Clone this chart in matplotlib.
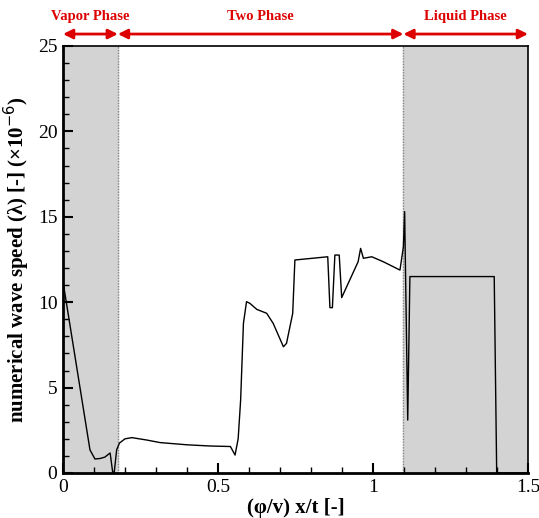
import matplotlib
matplotlib.use('Agg')
import matplotlib.pyplot as plt
from matplotlib.ticker import MultipleLocator

# wave speed curve
x = [0.0, 0.087, 0.103, 0.12, 0.135, 0.152, 0.16, 0.165, 0.173, 0.182, 0.2, 0.222,
     0.27, 0.313, 0.4, 0.474, 0.54, 0.555, 0.565, 0.573, 0.582, 0.592, 0.603, 0.625,
     0.657, 0.678, 0.711, 0.721, 0.741, 0.748, 0.854, 0.861, 0.869, 0.877, 0.891,
     0.899, 0.952, 0.96, 0.969, 0.996, 1.033, 1.087, 1.098, 1.102, 1.112, 1.119,
     1.391, 1.399, 1.5]
y = [11.2, 1.35, 0.82, 0.85, 0.93, 1.17, 0.08, 0.0, 1.35, 1.75, 2.0, 2.07,
     1.93, 1.78, 1.65, 1.58, 1.55, 1.05, 2.0, 4.27, 8.76, 10.03, 9.93, 9.58,
     9.35, 8.76, 7.39, 7.59, 9.35, 12.47, 12.66, 9.68, 9.68, 12.76, 12.76,
     10.27, 12.37, 13.15, 12.57, 12.66, 12.37, 11.88, 13.25, 15.3, 3.1, 11.5,
     11.5, 0.0, 0.0]

vapor_end = 0.177
liquid_start = 1.098
phases = ['Vapor Phase', 'Two Phase', 'Liquid Phase']
phase_bounds = [(0.0, vapor_end), (vapor_end, liquid_start), (liquid_start, 1.5)]

plt.rcParams['font.family'] = ['Liberation Serif', 'DejaVu Serif']
fig = plt.figure(figsize=(5.39, 5.18), dpi=100)
ax = fig.add_axes([0.1169, 0.0869, 0.8627, 0.8243])

ax.axvspan(0, vapor_end, color='#d3d3d3', zorder=0)
ax.axvspan(liquid_start, 1.5, color='#d3d3d3', zorder=0)
for xb in (vapor_end, liquid_start):
    ax.axvline(xb, color='#888888', linestyle=(0, (1, 1)), linewidth=1.0, zorder=1)

ax.plot(x, y, color='black', linewidth=1.0, zorder=2)

ax.set_xlim(0, 1.5)
ax.set_ylim(0, 25)
ax.xaxis.set_major_locator(MultipleLocator(0.5))
ax.xaxis.set_minor_locator(MultipleLocator(0.1))
ax.yaxis.set_major_locator(MultipleLocator(5))
ax.yaxis.set_minor_locator(MultipleLocator(1))
ax.set_xticks([0, 0.5, 1, 1.5])
ax.set_xticklabels(['0', '0.5', '1', '1.5'])
ax.tick_params(which='major', direction='in', length=7, width=1.5, labelsize=14, pad=4)
ax.tick_params(which='minor', direction='in', length=4, width=1.0)
ax.spines['left'].set_linewidth(2)
ax.spines['bottom'].set_linewidth(2)
ax.spines['top'].set_linewidth(1.2)
ax.spines['right'].set_linewidth(1.2)

ax.set_xlabel('(φ/v) x/t [-]', fontsize=15, fontweight='bold', labelpad=2)
ax.set_ylabel(r'numerical wave speed (λ) [-] (×10$^{-6}$)', fontsize=15,
              fontweight='bold', labelpad=4)

# phase annotations above the axes
red = '#dd0000'
for name, (x0, x1) in zip(phases, phase_bounds):
    ax.annotate('', xy=(x0, 25.7), xytext=(x1, 25.7), xycoords='data',
                annotation_clip=False,
                arrowprops=dict(arrowstyle='<|-|>', color=red, lw=2,
                                mutation_scale=14, shrinkA=0, shrinkB=0))
    ax.text((x0 + x1) / 2, 26.75, name, color=red, fontsize=10.5,
            fontweight='bold', ha='center', va='center', clip_on=False)

fig.savefig('out.png', dpi=100)
